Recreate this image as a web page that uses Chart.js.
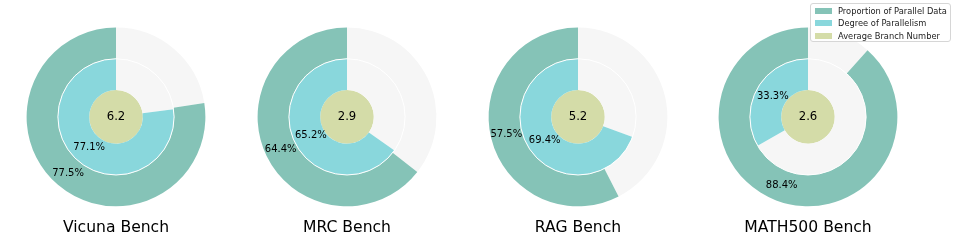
<!DOCTYPE html>
<html>
<head>
<meta charset="utf-8">
<script src="https://cdn.jsdelivr.net/npm/chart.js@4.4.1/dist/chart.umd.min.js"></script>
<style>
  body { margin: 0; background: #fff; font-family: "DejaVu Sans", sans-serif; }
  #wrap { position: relative; width: 956px; height: 241px; overflow: hidden; }
  .cell { position: absolute; top: 0; width: 230px; height: 241px; }
  #legend {
    position: absolute; left: 810px; top: 3px; width: 141px; height: 39px;
    border: 1px solid #d6d6d6; border-radius: 3px; background: rgba(255,255,255,0.85);
    font-size: 8.3px; color: #222; box-sizing: border-box;
  }
  .row { position: absolute; left: 4px; height: 10px; line-height: 10px; white-space: nowrap; }
  .row span { display: inline-block; width: 17px; height: 6px; margin-right: 6px; vertical-align: 0px; }
</style>
</head>
<body>
<div id="wrap">
  <div class="cell" style="left:1.3px"><canvas id="c0"></canvas></div>
  <div class="cell" style="left:232px"><canvas id="c1"></canvas></div>
  <div class="cell" style="left:462.6px"><canvas id="c2"></canvas></div>
  <div class="cell" style="left:693.3px"><canvas id="c3"></canvas></div>
  <div id="legend"></div>
</div>
<script>
// data
const benches = ["Vicuna Bench", "MRC Bench", "RAG Bench", "MATH500 Bench"];
const parallelProportion = [77.5, 64.4, 57.5, 88.4];   // outer ring, %
const parallelDegree = [77.1, 65.2, 69.4, 33.3];       // inner ring, %
const avgBranches = [6.2, 2.9, 5.2, 2.6];              // centre disc
const seriesNames = ["Proportion of Parallel Data", "Degree of Parallelism", "Average Branch Number"];

const teal = "#85c3b7", cyan = "#89d7dc", olive = "#d4dca8", grey = "#f6f6f6";
const FONT = "DejaVu Sans";

// legend
const leg = document.getElementById("legend");
[teal, cyan, olive].forEach((c, i) => {
  const r = document.createElement("div");
  r.className = "row";
  r.style.top = (2 + i * 12.3) + "px";
  r.innerHTML = '<span style="background:' + c + '"></span>' + seriesNames[i];
  leg.appendChild(r);
});

// white edge round the inner ring, % labels and the centre value
const labelPlugin = {
  id: "ringLabels",
  afterDatasetsDraw(chart, args, opts) {
    const ctx = chart.ctx;
    ctx.save();

    const a1 = chart.getDatasetMeta(1).data[1];
    ctx.strokeStyle = "#fff";
    ctx.lineWidth = 1;
    ctx.beginPath();
    ctx.arc(a1.x, a1.y, a1.outerRadius, 0, Math.PI * 2);
    ctx.stroke();

    ctx.fillStyle = "#000";
    ctx.textAlign = "center";
    ctx.textBaseline = "middle";

    // outer ring label at ring middle
    const a0 = chart.getDatasetMeta(0).data[1];
    const p0 = a0.getCenterPoint();
    ctx.font = "10px '" + FONT + "'";
    ctx.fillText(chart.data.datasets[0].data[1].toFixed(1) + "%", p0.x, p0.y);

    // inner ring label at 0.7 of its outer radius
    const mid = (a1.startAngle + a1.endAngle) / 2;
    const rr = a1.outerRadius * 0.7;
    ctx.fillText(chart.data.datasets[1].data[1].toFixed(1) + "%", a1.x + Math.cos(mid) * rr, a1.y + Math.sin(mid) * rr);

    // centre value
    const a2 = chart.getDatasetMeta(2).data[0];
    ctx.font = "11.7px '" + FONT + "'";
    ctx.fillText(opts.centre.toFixed(1), a2.x, a2.y + 0.5);
    ctx.restore();
  }
};

benches.forEach((name, i) => {
  new Chart(document.getElementById("c" + i), {
    type: "doughnut",
    data: {
      labels: ["rest", "parallel"],
      datasets: [{
        data: [100 - parallelProportion[i], parallelProportion[i]],
        backgroundColor: [grey, teal],
        borderWidth: 0,
        weight: 0.35
      }, {
        data: [100 - parallelDegree[i], parallelDegree[i]],
        backgroundColor: [grey, cyan],
        borderWidth: 0,
        weight: 0.35
      }, {
        data: [avgBranches[i]],
        backgroundColor: [olive],
        borderWidth: 0,
        weight: 0.30
      }]
    },
    options: {
      responsive: true,
      maintainAspectRatio: false,
      animation: false,
      cutout: 0,
      layout: { padding: { top: 27.5, bottom: 0, left: 0, right: 0 } },
      plugins: {
        legend: { display: false },
        tooltip: { enabled: false },
        title: {
          display: true,
          position: "bottom",
          text: name,
          color: "#000",
          font: { family: FONT, size: 15.6, weight: "normal", lineHeight: 1.2 },
          padding: { top: 12, bottom: 4 }
        },
        ringLabels: { centre: avgBranches[i] }
      }
    },
    plugins: [labelPlugin]
  });
});
</script>
</body>
</html>
